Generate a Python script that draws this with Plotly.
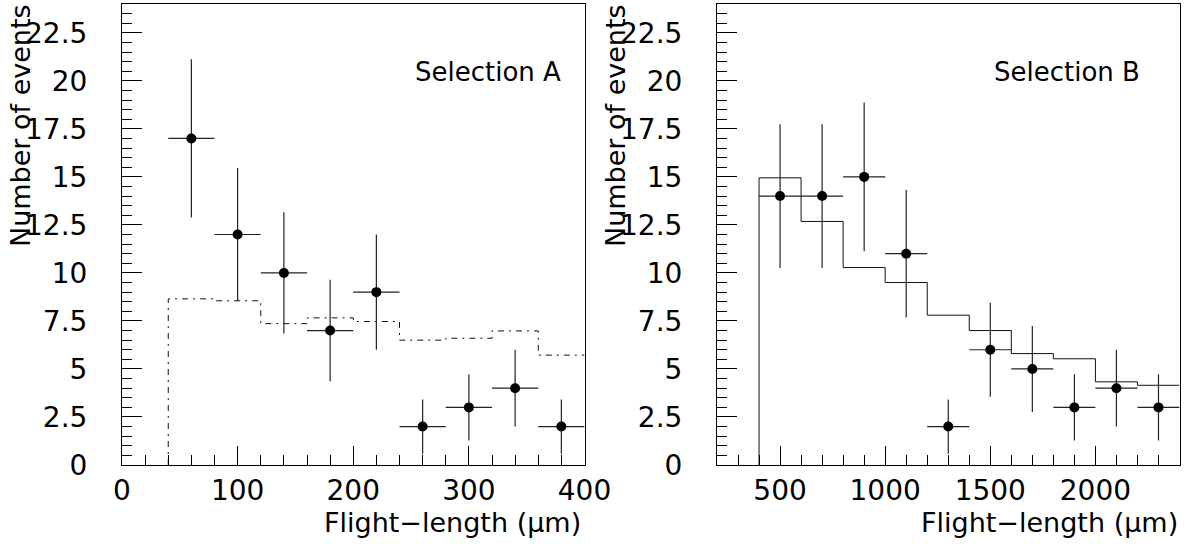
import plotly.graph_objects as go

# ---------------- data ----------------
# Selection A
a_centers = [60, 100, 140, 180, 220, 260, 300, 340, 380]
a_counts = [17, 12, 10, 7, 9, 2, 3, 4, 2]
a_err = [4.12, 3.46, 3.16, 2.65, 3.0, 1.41, 1.73, 2.0, 1.41]
a_xerr = [20, 20, 20, 20, 20, 20, 20, 20, 20]
a_hist_edges = [40, 80, 120, 160, 200, 240, 280, 320, 360, 400]
a_hist_vals = [8.65, 8.55, 7.36, 7.66, 7.47, 6.5, 6.6, 6.98, 5.72]

# Selection B
b_centers = [500, 700, 900, 1100, 1300, 1500, 1700, 1900, 2100, 2300]
b_counts = [14, 14, 15, 11, 2, 6, 5, 3, 4, 3]
b_err = [3.74, 3.74, 3.87, 3.32, 1.41, 2.45, 2.24, 1.73, 2.0, 1.73]
b_xerr = [100, 100, 100, 100, 100, 100, 100, 100, 100, 100]
b_hist_edges = [400, 600, 800, 1000, 1200, 1400, 1600, 1800, 2000, 2200, 2400]
b_hist_vals = [14.95, 12.68, 10.28, 9.5, 7.8, 7.0, 5.8, 5.53, 4.33, 4.15]

y_title = "Number of events"
x_title = "Flight\u2212length (\u03bcm)"
labels = ["Selection A", "Selection B"]

W, H = 1190, 548
FONT = "DejaVu Sans"


def hist_xy(edges, vals):
    xs = [edges[0]] + list(edges[:-1]) + [edges[-1]]
    ys = [0] + list(vals) + [vals[-1]]
    return xs, ys


fig = go.Figure()

# histogram A (dash-dot)
hx, hy = hist_xy(a_hist_edges, a_hist_vals)
fig.add_trace(go.Scatter(x=hx, y=hy, mode="lines", line_shape="hv",
                         line=dict(color="#111", width=1, dash="6px,5px,2px,5px"),
                         xaxis="x", yaxis="y", showlegend=False, hoverinfo="skip"))
fig.add_trace(go.Scatter(x=a_centers, y=a_counts, mode="markers",
                         marker=dict(color="black", size=10),
                         error_y=dict(type="data", array=a_err, width=0, thickness=1.2, color="#222"),
                         error_x=dict(type="data", array=a_xerr, width=0, thickness=1.2, color="#222"),
                         xaxis="x", yaxis="y", showlegend=False))

# histogram B (solid)
hx, hy = hist_xy(b_hist_edges, b_hist_vals)
fig.add_trace(go.Scatter(x=hx, y=hy, mode="lines", line_shape="hv",
                         line=dict(color="#111", width=1),
                         xaxis="x2", yaxis="y2", showlegend=False, hoverinfo="skip"))
fig.add_trace(go.Scatter(x=b_centers, y=b_counts, mode="markers",
                         marker=dict(color="black", size=10),
                         error_y=dict(type="data", array=b_err, width=0, thickness=1.2, color="#222"),
                         error_x=dict(type="data", array=b_xerr, width=0, thickness=1.2, color="#222"),
                         xaxis="x2", yaxis="y2", showlegend=False))

# geometry (pixels -> paper)
yb, yt = 465, 4
ydom = [(H - yb) / H, (H - yt) / H]
xdomA = [122 / W, 584.5 / W]
xdomB = [717 / W, 1179.5 / W]

tickfont = dict(family=FONT, size=28, color="black")

common_y = dict(range=[0, 24], dtick=2.5, tick0=0, ticks="inside", ticklen=20,
                tickcolor="black", tickwidth=1, showline=True, linecolor="black",
                linewidth=1, mirror=True, showgrid=False, zeroline=False,
                tickfont=tickfont, ticklabelstandoff=28, automargin=False,
                minor=dict(dtick=0.5, tick0=0, ticks="inside", ticklen=10,
                           tickcolor="black", tickwidth=1, showgrid=False),
                domain=ydom)
common_x = dict(ticks="inside", ticklen=19, tickcolor="black", tickwidth=1,
                showline=True, linecolor="black", linewidth=1, mirror=True,
                showgrid=False, zeroline=False, tickfont=tickfont,
                ticklabelstandoff=0, automargin=False)

fig.update_layout(
    width=W, height=H,
    margin=dict(l=0, r=0, t=0, b=0),
    paper_bgcolor="white", plot_bgcolor="white",
    xaxis=dict(common_x, range=[0, 400], tick0=0, dtick=100, domain=xdomA, anchor="y",
               minor=dict(dtick=20, tick0=0, ticks="inside", ticklen=10,
                          tickcolor="black", tickwidth=1, showgrid=False)),
    yaxis=dict(common_y, anchor="x"),
    xaxis2=dict(common_x, range=[200, 2400], tick0=500, dtick=500, domain=xdomB, anchor="y2",
                minor=dict(dtick=100, tick0=200, ticks="inside", ticklen=10,
                           tickcolor="black", tickwidth=1, showgrid=False)),
    yaxis2=dict(common_y, anchor="x2"),
)

annfont = dict(family=FONT, size=27, color="black")
anns = [
    dict(text=y_title, textangle=-90, x=20 / W, y=(H - 126) / H, xref="paper", yref="paper",
         xanchor="center", yanchor="middle", showarrow=False, font=annfont),
    dict(text=y_title, textangle=-90, x=615 / W, y=(H - 126) / H, xref="paper", yref="paper",
         xanchor="center", yanchor="middle", showarrow=False, font=annfont),
    dict(text=x_title, x=583 / W, y=(H - 522) / H, xref="paper", yref="paper",
         xanchor="right", yanchor="middle", showarrow=False, font=annfont),
    dict(text=x_title, x=1180 / W, y=(H - 522) / H, xref="paper", yref="paper",
         xanchor="right", yanchor="middle", showarrow=False, font=annfont),
    dict(text=labels[0], x=413 / W, y=(H - 72) / H, xref="paper", yref="paper",
         xanchor="left", yanchor="middle", showarrow=False,
         font=dict(family=FONT, size=26, color="black")),
    dict(text=labels[1], x=992 / W, y=(H - 72) / H, xref="paper", yref="paper",
         xanchor="left", yanchor="middle", showarrow=False,
         font=dict(family=FONT, size=26, color="black")),
]
fig.update_layout(annotations=anns)

fig.write_html("out.html", post_script="document.body.style.margin='0px';",
               config={"displayModeBar": False})
